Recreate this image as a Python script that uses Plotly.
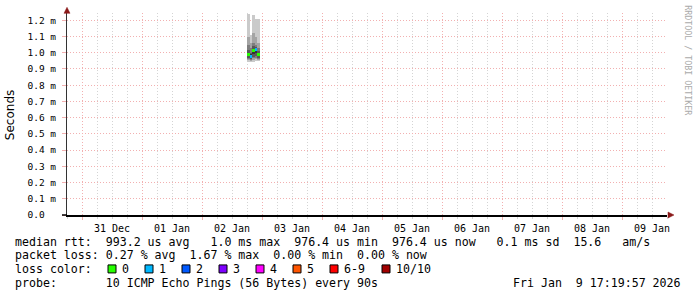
import plotly.graph_objects as go

# ---------------- data ----------------
bin_times = ["2026-01-02 18:30", "2026-01-02 19:30", "2026-01-02 20:30",
             "2026-01-02 21:30", "2026-01-02 22:30"]
# smoke levels (ms): pairs of sorted pings, outermost first
smoke1_lo = [0.945, 0.945, 0.945, 0.950, 0.950]
smoke1_hi = [1.237, 1.108, 1.231, 1.210, 1.206]
smoke2_lo = [0.955, 0.950, 0.955, 0.960, 0.955]
smoke2_hi = [1.100, 1.060, 1.120, 1.100, 1.060]
smoke3_lo = [0.960, 0.955, 0.965, 0.970, 0.960]
smoke3_hi = [1.050, 1.030, 1.060, 1.050, 1.030]
smoke4_lo = [0.970, 0.960, 0.975, 0.980, 0.970]
smoke4_hi = [1.020, 1.000, 1.040, 1.035, 1.010]
smoke5_lo = [0.980, 0.970, 0.990, 1.000, 0.980]
smoke5_hi = [1.000, 0.990, 1.025, 1.030, 1.000]
median_rtt = [0.990, 0.978, 1.012, 1.020, 0.990]
loss_count = [0, 1, 0, 1, 0]

smoke_colors = ["#cacaca", "#a4a4a4", "#7e7e7e", "#585858", "#323232"]
loss_labels = ["0", "1", "2", "3", "4", "5", "6-9", "10/10"]
loss_colors = ["#26ff00", "#00b8ff", "#0059ff", "#7e00ff", "#ff00ff",
               "#ff5500", "#ff0000", "#a10000"]

y_tickvals = [0.0, 0.1, 0.2, 0.3, 0.4, 0.5, 0.6, 0.7, 0.8, 0.9, 1.0, 1.1, 1.2]
y_ticktext = ["0.0\u00a0\u00a0", "0.1 m", "0.2 m", "0.3 m", "0.4 m", "0.5 m",
              "0.6 m", "0.7 m", "0.8 m", "0.9 m", "1.0 m", "1.1 m", "1.2 m"]

line_rtt = "median rtt:  993.2 us avg   1.0 ms max  976.4 us min  976.4 us now   0.1 ms sd  15.6   am/s"
line_loss = "packet loss: 0.27 % avg  1.67 % max  0.00 % min  0.00 % now"
line_color = "loss color:"
line_probe = "probe:       10 ICMP Echo Pings (56 Bytes) every 90s"
line_date = "Fri Jan  9 17:19:57 2026"
watermark = "RRDTOOL / TOBI OETIKER"

# ---------------- layout geometry ----------------
W, H = 697, 297
L, R = 67, 667          # plot left / right pixel
B = 215                 # plot bottom pixel
YMAX = 1.245
PX_PER_MS = 162.5
T = B - YMAX * PX_PER_MS
PW, PH = R - L, B - T


def px(xp):
    return (xp - L) / PW


def py(yp):
    return (B - yp) / PH


MONO = "DejaVu Sans Mono"
fig = go.Figure()

smoke = [(smoke1_lo, smoke1_hi), (smoke2_lo, smoke2_hi), (smoke3_lo, smoke3_hi),
         (smoke4_lo, smoke4_hi), (smoke5_lo, smoke5_hi)]
for (lo, hi), col in zip(smoke, smoke_colors):
    fig.add_trace(go.Bar(x=bin_times, base=lo, y=[h - l for l, h in zip(lo, hi)],
                         width=3600000, marker=dict(color=col, line=dict(width=0)),
                         hoverinfo="skip", showlegend=False))

band = 3.0 / PX_PER_MS
fig.add_trace(go.Bar(x=bin_times, base=[m - band / 2 for m in median_rtt],
                     y=[band] * len(median_rtt), width=3600000,
                     marker=dict(color=[loss_colors[c] for c in loss_count], line=dict(width=0)),
                     hoverinfo="skip", showlegend=False))

major_grid = "#f2b0b0"
minor_grid = "#d4d4d4"

fig.update_layout(
    width=W, height=H, autosize=False,
    margin=dict(l=L, r=W - R, t=T, b=H - B, pad=0),
    paper_bgcolor="white", plot_bgcolor="white",
    barmode="overlay", bargap=0,
    showlegend=False,
    font=dict(family=MONO, size=10, color="black"),
    xaxis=dict(
        type="date", range=["2025-12-30 18:00", "2026-01-09 18:00"],
        tick0="2025-12-31", dtick=86400000, tickformat="%d %b",
        ticklabelmode="period",
        showgrid=True, gridcolor=major_grid, griddash="1px,2px", gridwidth=1,
        minor=dict(dtick=6 * 3600000, showgrid=True, gridcolor=minor_grid,
                   griddash="1px,2px", gridwidth=1, ticks="outside", ticklen=2,
                   tickcolor=minor_grid),
        ticks="outside", ticklen=3, tickcolor=major_grid,
        showline=True, linecolor="black", linewidth=1.5,
        zeroline=False, fixedrange=True,
        tickfont=dict(family=MONO, size=10, color="black"),
    ),
    yaxis=dict(
        range=[0, YMAX], tickvals=y_tickvals, ticktext=y_ticktext,
        showgrid=True, gridcolor=major_grid, griddash="1px,2px", gridwidth=1,
        ticks="outside", ticklen=4, tickcolor=major_grid,
        showline=True, linecolor="#333333", linewidth=1,
        zeroline=False, fixedrange=True, ticklabelstandoff=4,
        tickfont=dict(family=MONO, size=9.5, color="black"),
    ),
)

ann = []
ann.append(dict(text="Seconds", x=px(10), y=py(115), xref="paper", yref="paper",
                textangle=-90, showarrow=False, xanchor="center", yanchor="middle",
                font=dict(family="DejaVu Sans", size=12, color="black")))
ann.append(dict(text=watermark.replace(" ", "\u00a0"), x=px(688), y=py(60),
                xref="paper", yref="paper", textangle=90, showarrow=False,
                xanchor="center", yanchor="middle",
                font=dict(family=MONO, size=8.3, color="#aaaaaa")))

TF = dict(family=MONO, size=11.6, color="black")
rows = [(line_rtt, 241.7), (line_loss, 255.2), (line_color, 269), (line_probe, 282.7)]
for txt, yy in rows:
    ann.append(dict(text=txt.replace(" ", "\u00a0"), x=px(15), y=py(yy),
                    xref="paper", yref="paper", showarrow=False,
                    xanchor="left", yanchor="middle", font=TF,
                    borderpad=0, borderwidth=0))
ann.append(dict(text=line_date.replace(" ", "\u00a0"), x=px(681), y=py(282.7),
                xref="paper", yref="paper", showarrow=False,
                xanchor="right", yanchor="middle", font=TF, borderpad=0, borderwidth=0))

sq_left = [108, 145, 182, 219, 256, 293, 330, 382]
shapes = []
for lab, col, sx in zip(loss_labels, loss_colors, sq_left):
    shapes.append(dict(type="rect", xref="paper", yref="paper",
                       x0=px(sx), x1=px(sx + 8), y0=py(273), y1=py(265),
                       fillcolor=col, line=dict(color="black", width=1)))
    ann.append(dict(text=lab, x=px(sx + 14), y=py(269), xref="paper", yref="paper",
                    showarrow=False, xanchor="left", yanchor="middle", font=TF,
                    borderpad=0, borderwidth=0))

arrow_col = "#8b1a1a"
# y-axis arrow (top)
shapes.append(dict(type="path", xref="paper", yref="paper",
                   path=f"M {px(64)},{py(13)} L {px(70)},{py(13)} L {px(67)},{py(7)} Z",
                   fillcolor=arrow_col, line=dict(color=arrow_col, width=0.5)))
# x-axis arrow (right)
shapes.append(dict(type="path", xref="paper", yref="paper",
                   path=f"M {px(668)},{py(212)} L {px(668)},{py(218)} L {px(674)},{py(215)} Z",
                   fillcolor=arrow_col, line=dict(color=arrow_col, width=0.5)))
# axis extension to the left of y axis
shapes.append(dict(type="line", xref="paper", yref="paper",
                   x0=px(62), x1=px(67), y0=0, y1=0, line=dict(color="black", width=1.5)))

fig.update_layout(annotations=ann, shapes=shapes)
fig.write_html("out.html")
